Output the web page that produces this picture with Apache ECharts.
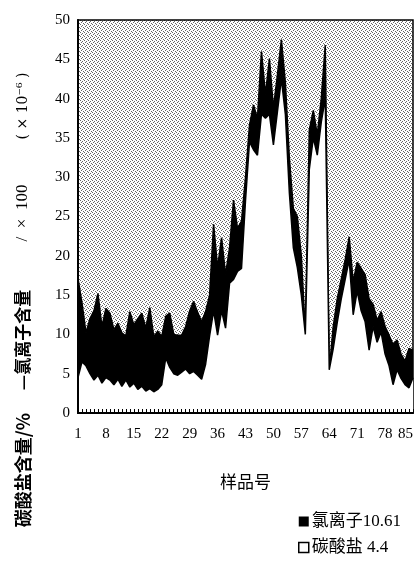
<!DOCTYPE html>
<html>
<head>
<meta charset="utf-8">
<script src="https://cdn.jsdelivr.net/npm/echarts@6/dist/echarts.min.js"></script>
<style>html,body{margin:0;padding:0;background:#fff}#c{width:416px;height:569px}</style>
</head>
<body>
<div id="c"></div>
<script>
var categories = [1,2,3,4,5,6,7,8,9,10,11,12,13,14,15,16,17,18,19,20,21,22,23,24,25,26,27,28,29,30,31,32,33,34,35,36,37,38,39,40,41,42,43,44,45,46,47,48,49,50,51,52,53,54,55,56,57,58,59,60,61,62,63,64,65,66,67,68,69,70,71,72,73,74,75,76,77,78,79,80,81,82,83,84,85];
var chloride = [17.1,14,10.2,12,13,15.2,11,13.3,12.7,10.6,11.4,10.2,9.8,12.9,11.2,12.0,12.7,10.8,13.4,9.7,10.4,9.7,12.3,12.7,10.0,9.9,9.9,11,13,14.2,12.8,11.6,12.9,15,24,18.5,22.3,17.6,21,27.1,23.5,24.4,30,36.6,39.2,37.5,46,40.5,45.1,38.8,43,47.5,42,32.4,26,25,20,10.3,36,38.5,35.4,40,46.8,5.5,11,14.5,17,19.5,22.4,16.7,19.2,18.4,17.6,14.5,13.8,11.8,12.9,11,9.9,8.7,9.3,7.5,6.6,8.2,8];
var carbonate = [4.5,6.5,6,5,4.2,4.8,3.8,4.5,4.2,3.6,4.3,3.4,4.2,3.3,3.8,3.0,3.4,2.8,3.1,2.7,3.0,3.6,7.0,5.8,5.0,4.8,5.2,5.6,5.0,5.3,4.8,4.3,6.2,9.8,13,9.9,13,10.8,16.5,17,18,18.4,27,34.5,33.5,32.8,38,37.5,38,34.1,38.3,42.5,38,28,21,18.5,15,10,31,35,32.8,37,40,5.5,8.2,11.5,14.5,17,19.5,12.5,15.5,13,11.6,8,11,9,10.3,7.5,6,3.6,5.5,4.4,3.6,3.2,4.5];
var seriesNames = ['氯离子', '碳酸盐'];
var legendValues = ['10.61', ' 4.4'];
var yTicks = {min: 0, max: 50, interval: 5};

var pc = document.createElement('canvas');
pc.width = 4; pc.height = 4;
var g = pc.getContext('2d');
g.fillStyle = '#fff'; g.fillRect(0,0,4,4);
g.fillStyle = 'rgba(0,0,0,0.6)';
g.fillRect(0,0,1,1); g.fillRect(2,1,1,1); g.fillRect(1,2,1,1); g.fillRect(3,3,1,1);

var serif = "'Liberation Serif', 'DejaVu Serif', serif";
var cjk = "'Noto Sans CJK SC', sans-serif";

var chart = echarts.init(document.getElementById('c'), null, {renderer: 'canvas'});
chart.setOption({
  animation: false,
  backgroundColor: '#fff',
  grid: {left: 78, right: 3, top: 20, bottom: 156, show: true,
    backgroundColor: {image: pc, repeat: 'repeat'}, borderColor: '#000', borderWidth: 1.5},
  legend: {
    orient: 'vertical', left: 298, top: 513, padding: 0, itemGap: 9, itemWidth: 10, itemHeight: 10,
    height: 56,
    data: [
      {name: seriesNames[0], icon: 'rect', itemStyle: {color: '#000', borderWidth: 0}},
      {name: seriesNames[1], icon: 'rect', itemStyle: {color: '#fff', borderColor: '#000', borderWidth: 1.5}}
    ],
    formatter: function (n) { return n + legendValues[seriesNames.indexOf(n)]; },
    textStyle: {fontFamily: "'Liberation Serif', 'Noto Sans CJK SC', serif", fontSize: 17, color: '#000', padding: [0,0,0,-2]}
  },
  xAxis: {
    type: 'category', data: categories, boundaryGap: false, z: 5,
    name: '样品号', nameLocation: 'middle', nameGap: 60,
    nameTextStyle: {fontFamily: cjk, fontSize: 17, color: '#000'},
    axisLine: {lineStyle: {color: '#000', width: 2}},
    axisTick: {inside: true, length: 4, interval: 0, lineStyle: {color: '#000', width: 1}},
    axisLabel: {interval: 6, margin: 14, fontFamily: serif, fontSize: 15, color: '#000', alignMaxLabel: 'right'},
    splitLine: {show: false}
  },
  yAxis: {
    type: 'value', min: yTicks.min, max: yTicks.max, interval: yTicks.interval, z: 5,
    axisLine: {show: true, lineStyle: {color: '#000', width: 2}},
    axisTick: {show: false},
    axisLabel: {margin: 8, fontFamily: serif, fontSize: 15, color: '#000'},
    splitLine: {show: false}
  },
  series: [
    {name: seriesNames[0], type: 'line', data: chloride, symbol: 'none', z: 2,
     lineStyle: {color: '#000', width: 1.5}, itemStyle: {color: '#000'},
     areaStyle: {color: '#000', opacity: 1}},
    {name: seriesNames[1], type: 'line', data: carbonate, symbol: 'none', z: 3,
     lineStyle: {color: '#000', width: 1.5}, itemStyle: {color: '#fff'},
     areaStyle: {color: '#fff', opacity: 1}}
  ],
  graphic: [
    {type: 'text', x: 23, y: 470, rotation: Math.PI / 2,
     style: {text: '碳酸盐含量/%', font: "bold 18px 'Noto Sans CJK SC'", fill: '#000', align: 'center', verticalAlign: 'middle'}},
    {type: 'text', x: 23, y: 340, rotation: Math.PI / 2,
     style: {text: '—氯离子含量', font: "bold 17px 'Noto Sans CJK SC'", fill: '#000', align: 'center', verticalAlign: 'middle'}},
    {type: 'text', x: 23, y: 213, rotation: Math.PI / 2,
     style: {text: '/  ×  100', font: "17px 'Liberation Serif'", fill: '#000', align: 'center', verticalAlign: 'middle'}},
    {type: 'text', x: 23, y: 106, rotation: Math.PI / 2,
     style: {text: '( × 10⁻⁶ )', font: "14px 'DejaVu Serif'", fill: '#000', align: 'center', verticalAlign: 'middle'}}
  ]
});
</script>
</body>
</html>
